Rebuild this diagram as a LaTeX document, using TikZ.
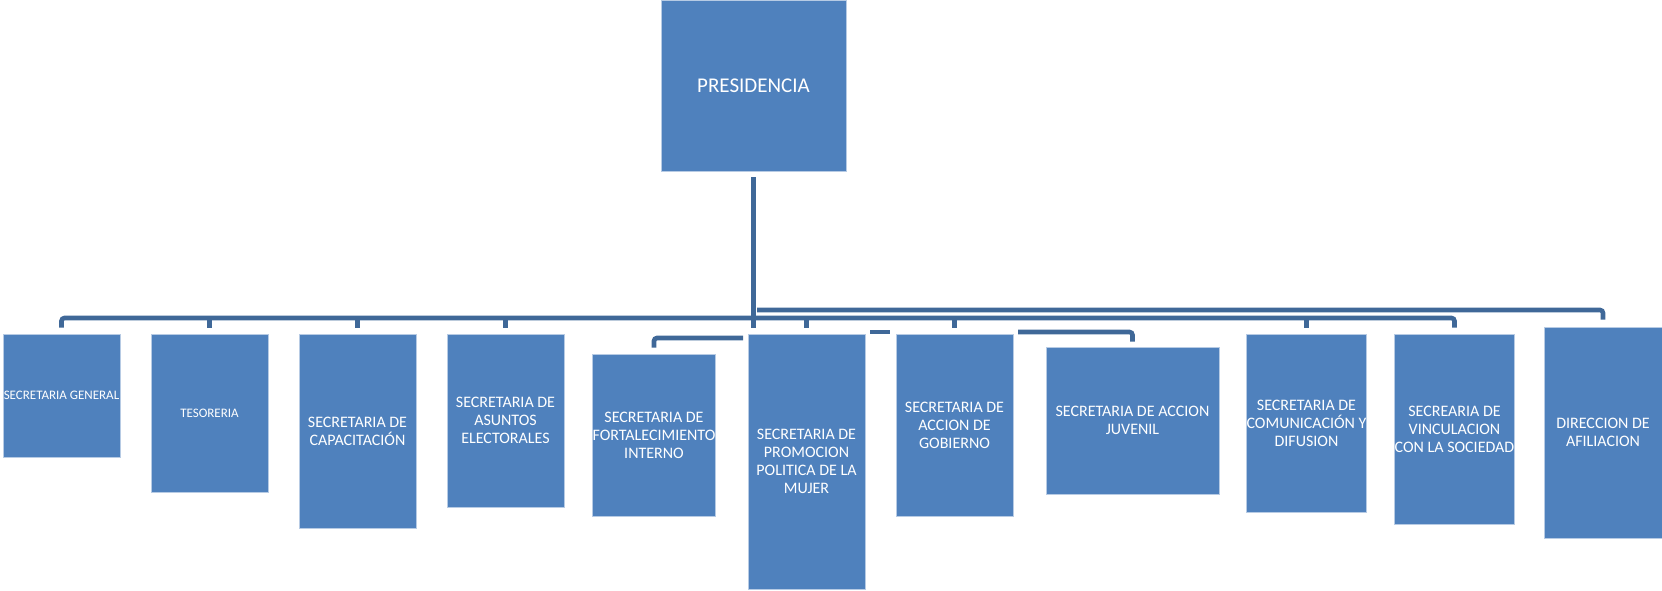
\documentclass[tikz,border=0pt]{standalone}
\usepackage{fontspec}
\setmainfont{Carlito}
\definecolor{cajaazul}{HTML}{4F81BD}
\definecolor{lineaazul}{HTML}{3F6898}
\definecolor{bordeazul}{HTML}{B7CBE4}
\begin{document}
\begin{tikzpicture}[x=1pt, y=-1pt, inner sep=0pt,
		caja/.style={fill=cajaazul, draw=bordeazul, line width=0.8pt, text=white, align=center, font=\fontsize{16}{18}\selectfont},
		chica/.style={font=\fontsize{13}{15}\selectfont},
		linea/.style={draw=lineaazul, line width=4.6pt, rounded corners=3pt}]
		\useasboundingbox (0,0) rectangle (1662,590);
		\node[caja, minimum width=185, minimum height=171, font=\fontsize{21}{24}\selectfont] (pres) at (753.5, 85.5) {PRESIDENCIA};
		\node[caja, chica, minimum width=117, minimum height=123] (sg) at (61.5, 395.5) {SECRETARIA GENERAL};
		\node[caja, chica, minimum width=117, minimum height=158] (tes) at (209.5, 413) {TESORERIA};
		\node[caja, minimum width=117, minimum height=194] (cap) at (357.5, 431) {SECRETARIA DE\\CAPACITACIÓN};
		\node[caja, minimum width=117, minimum height=173] (ase) at (505.5, 420.5) {SECRETARIA DE\\ASUNTOS\\ELECTORALES};
		\node[caja, minimum width=122, minimum height=162] (for) at (654, 435) {SECRETARIA DE\\FORTALECIMIENTO\\INTERNO};
		\node[caja, minimum width=117, minimum height=255] (pro) at (806.5, 461.5) {SECRETARIA DE\\PROMOCION\\POLITICA DE LA\\MUJER};
		\node[caja, minimum width=117, minimum height=182] (gob) at (954.5, 425) {SECRETARIA DE\\ACCION DE\\GOBIERNO};
		\node[caja, minimum width=173, minimum height=147] (juv) at (1132.5, 420.5) {SECRETARIA DE ACCION\\JUVENIL};
		\node[caja, minimum width=117, minimum height=178] (com) at (1306.5, 423) {SECRETARIA DE\\COMUNICACIÓN Y\\DIFUSION};
		\node[caja, minimum width=117, minimum height=190] (vin) at (1454.5, 429) {SECREARIA DE\\VINCULACION\\CON LA SOCIEDAD};
		\node[caja, minimum width=118, minimum height=211] (dir) at (1603, 432.5) {DIRECCION DE\\AFILIACION};
		% puntos sueltos de las lineas
		\coordinate (barra) at (754, 318);
		\coordinate (barrasup) at (757, 310);
		\coordinate (fort) at (743, 338);
		\coordinate (tramoA) at (870, 332);
		\coordinate (tramoB) at (890, 332);
		\coordinate (juvi) at (1018, 332);
		\draw[linea] ([yshift=-6pt]pres.south) -- ([yshift=6pt]pres.south |- pro.north);
		\draw[linea] ([yshift=6pt]sg.north) |- (barra) -| ([yshift=6pt]vin.north);
		\draw[linea] ([yshift=6pt]tes.north) -- (tes.north |- barra);
		\draw[linea] ([yshift=6pt]cap.north) -- (cap.north |- barra);
		\draw[linea] ([yshift=6pt]ase.north) -- (ase.north |- barra);
		\draw[linea] ([yshift=6pt]pro.north) -- (pro.north |- barra);
		\draw[linea] ([yshift=6pt]gob.north) -- (gob.north |- barra);
		\draw[linea] ([yshift=6pt]com.north) -- (com.north |- barra);
		\draw[linea] (barrasup) -| ([yshift=7pt]dir.north);
		\draw[linea] (fort) -| ([yshift=6pt]for.north);
		\draw[linea] (tramoA) -- (tramoB);
		\draw[linea] (juvi) -| ([yshift=5pt]juv.north);
	\end{tikzpicture}
\end{document}
